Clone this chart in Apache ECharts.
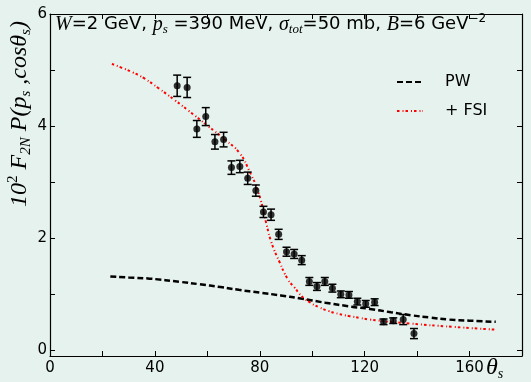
<!DOCTYPE html>
<html>
<head>
<meta charset="utf-8">
<script src="https://cdn.jsdelivr.net/npm/echarts@6/dist/echarts.min.js"></script>
<style>
html, body { margin: 0; padding: 0; background: #e5f2ee; }
#chart { width: 531px; height: 382px; }
</style>
</head>
<body>
<div id="chart"></div>
<script>
// measured points (theta_s in degrees, value, error)
var theta = [48.5, 52.3, 56.0, 59.4, 62.9, 66.2, 69.2, 72.4, 75.4, 78.5, 81.4, 84.3, 87.2, 90.2, 93.1,
  96.0, 98.9, 101.8, 104.8, 107.7, 110.9, 114.0, 117.2, 120.4, 123.8, 127.2, 130.9, 134.7, 138.8];
var prob = [4.72, 4.69, 3.95, 4.17, 3.72, 3.76, 3.26, 3.28, 3.07, 2.85, 2.47, 2.42, 2.07, 1.76, 1.72,
  1.61, 1.23, 1.14, 1.23, 1.11, 1.00, 0.99, 0.87, 0.83, 0.86, 0.51, 0.53, 0.55, 0.30];
var err = [0.19, 0.18, 0.15, 0.16, 0.13, 0.13, 0.12, 0.11, 0.11, 0.10, 0.10, 0.10, 0.09, 0.08, 0.08,
  0.08, 0.07, 0.07, 0.07, 0.07, 0.06, 0.06, 0.06, 0.06, 0.06, 0.05, 0.05, 0.09, 0.09];

// PW curve
var pwX = [23, 30, 38, 50, 57, 65, 72, 80, 88, 95, 105, 115, 122, 130, 138, 145, 152, 160, 170];
var pwY = [1.32, 1.30, 1.28, 1.22, 1.18, 1.13, 1.08, 1.03, 0.98, 0.93, 0.85, 0.78, 0.74, 0.68, 0.625, 0.585, 0.55, 0.53, 0.51];

// + FSI curve
var fsiX = [23.6, 27.4, 31.5, 36.0, 41.3, 47.7, 53.0, 60.3, 66.7, 72.3, 76.2, 79.4, 82.3, 84.4,
  87.4, 90.8, 93.3, 95.9, 99.0, 102.6, 106.4, 110.2, 114.3, 118.1, 121.9, 137.1, 153.6, 170];
var fsiY = [5.11, 5.04, 4.96, 4.85, 4.68, 4.46, 4.27, 4.00, 3.76, 3.52, 3.18, 2.83, 2.30, 1.93,
  1.59, 1.26, 1.12, 0.97, 0.86, 0.77, 0.70, 0.65, 0.61, 0.58, 0.55, 0.48, 0.42, 0.37];

var xLabels = [0, 40, 80, 120, 160];
var yLabels = [0, 2, 4, 6];
var yTicks = [0, 1, 2, 3, 4, 5, 6];

var serif = 'Liberation Serif';
var sans = 'DejaVu Sans';

var chart = echarts.init(document.getElementById('chart'));

var points = theta.map(function (t, i) { return [t, prob[i], err[i]]; });
var pwData = pwX.map(function (x, i) { return [x, pwY[i]]; });
var fsiData = fsiX.map(function (x, i) { return [x, fsiY[i]]; });

function errorBar(params, api) {
  var x = api.value(0), y = api.value(1), e = api.value(2);
  var top = api.coord([x, y + e]);
  var bot = api.coord([x, y - e]);
  var w = 4;
  var st = { stroke: '#000', lineWidth: 1.5 };
  return {
    type: 'group',
    children: [
      { type: 'line', shape: { x1: top[0], y1: top[1], x2: bot[0], y2: bot[1] }, style: st },
      { type: 'line', shape: { x1: top[0] - w, y1: top[1], x2: top[0] + w, y2: top[1] }, style: st },
      { type: 'line', shape: { x1: bot[0] - w, y1: bot[1], x2: bot[0] + w, y2: bot[1] }, style: st }
    ]
  };
}

var axisLine = { show: true, onZero: false, lineStyle: { color: '#000', width: 1.2 } };
var tick = { show: true, inside: true, length: 5, lineStyle: { color: '#000', width: 1 } };

var option = {
  backgroundColor: '#e5f2ee',
  animation: false,
  grid: { left: 50, right: 9, top: 14, bottom: 26 },
  xAxis: [{
    type: 'value', min: 0, max: 180, interval: 20,
    axisLine: axisLine,
    axisTick: tick,
    splitLine: { show: false },
    axisLabel: {
      color: '#000', fontFamily: sans, fontSize: 15, margin: 5,
      formatter: function (v) { return xLabels.indexOf(v) >= 0 ? String(v) : ''; }
    }
  }, {
    type: 'value', position: 'top', min: 0, max: 180, interval: 20,
    axisLine: axisLine, axisTick: tick, axisLabel: { show: false }, splitLine: { show: false }
  }],
  yAxis: [{
    type: 'value', min: -0.1, max: 6,
    axisLine: axisLine,
    axisTick: Object.assign({}, tick, { customValues: yTicks }),
    splitLine: { show: false },
    axisLabel: { color: '#000', fontFamily: sans, fontSize: 15, margin: 3, customValues: yLabels }
  }, {
    type: 'value', position: 'right', min: -0.1, max: 6,
    axisLine: axisLine,
    axisTick: Object.assign({}, tick, { customValues: yTicks }),
    axisLabel: { show: false }, splitLine: { show: false }
  }],
  legend: {
    orient: 'vertical', left: 391, top: 69,
    itemWidth: 26, itemHeight: 12, itemGap: 13,
    itemStyle: { color: 'transparent', borderWidth: 0, opacity: 0 },
    textStyle: { color: '#000', fontFamily: sans, fontSize: 16, padding: [0, 0, 0, 17] },
    data: ['PW', '+ FSI']
  },
  series: [{
    name: 'PW', type: 'line', data: pwData, symbol: 'none', smooth: true, z: 2,
    itemStyle: { color: '#000' },
    lineStyle: { color: '#000', width: 2.5, type: [6, 3] }
  }, {
    name: '+ FSI', type: 'line', data: fsiData, symbol: 'none', smooth: true, z: 2,
    itemStyle: { color: '#ff0000' },
    lineStyle: { color: '#ff0000', width: 2, type: [2.5, 3, 1, 2] }
  }, {
    name: 'err', type: 'custom', data: points, renderItem: errorBar, z: 3
  }, {
    name: 'data', type: 'scatter', data: points, symbolSize: 7, z: 4,
    itemStyle: { color: '#000' }
  }],
  graphic: [{
    type: 'text', left: 55, top: 13,
    style: {
      text: '{m|W}{t|=2 GeV, }{m|p}{sub|s}{t| =390 MeV, }{m|σ}{sub|tot}{t|=50 mb, }{m|B}{t|=6 GeV}{sup|−2}',
      rich: {
        m: { fontFamily: serif, fontStyle: 'italic', fontSize: 20, lineHeight: 23, fill: '#000' },
        t: { fontFamily: sans, fontSize: 18, lineHeight: 23, fill: '#000' },
        sub: { fontFamily: serif, fontStyle: 'italic', fontSize: 13, lineHeight: 14, verticalAlign: 'bottom', fill: '#000' },
        sup: { fontFamily: sans, fontSize: 12, lineHeight: 14, verticalAlign: 'top', fill: '#000' }
      }
    }
  }, {
    type: 'text', x: 20, y: 114, rotation: Math.PI / 2,
    style: {
      text: '{m|10}{sup|2}{m| F}{sub|2N}{m| P(p}{sub|s}{m| ,cosθ}{sub|s}{m|)}',
      align: 'center', verticalAlign: 'middle',
      rich: {
        m: { fontFamily: serif, fontStyle: 'italic', fontSize: 24, lineHeight: 28, fill: '#000' },
        sub: { fontFamily: serif, fontStyle: 'italic', fontSize: 15, lineHeight: 17, verticalAlign: 'bottom', fill: '#000' },
        sup: { fontFamily: serif, fontSize: 15, lineHeight: 17, verticalAlign: 'top', fill: '#000' }
      }
    }
  }, {
    type: 'text', left: 486, top: 356,
    style: {
      text: '{m|θ}{sub|s}',
      rich: {
        m: { fontFamily: serif, fontStyle: 'italic', fontSize: 24, lineHeight: 26, fill: '#000' },
        sub: { fontFamily: serif, fontStyle: 'italic', fontSize: 14, lineHeight: 16, verticalAlign: 'bottom', fill: '#000' }
      }
    }
  }]
};

chart.setOption(option);
</script>
</body>
</html>
